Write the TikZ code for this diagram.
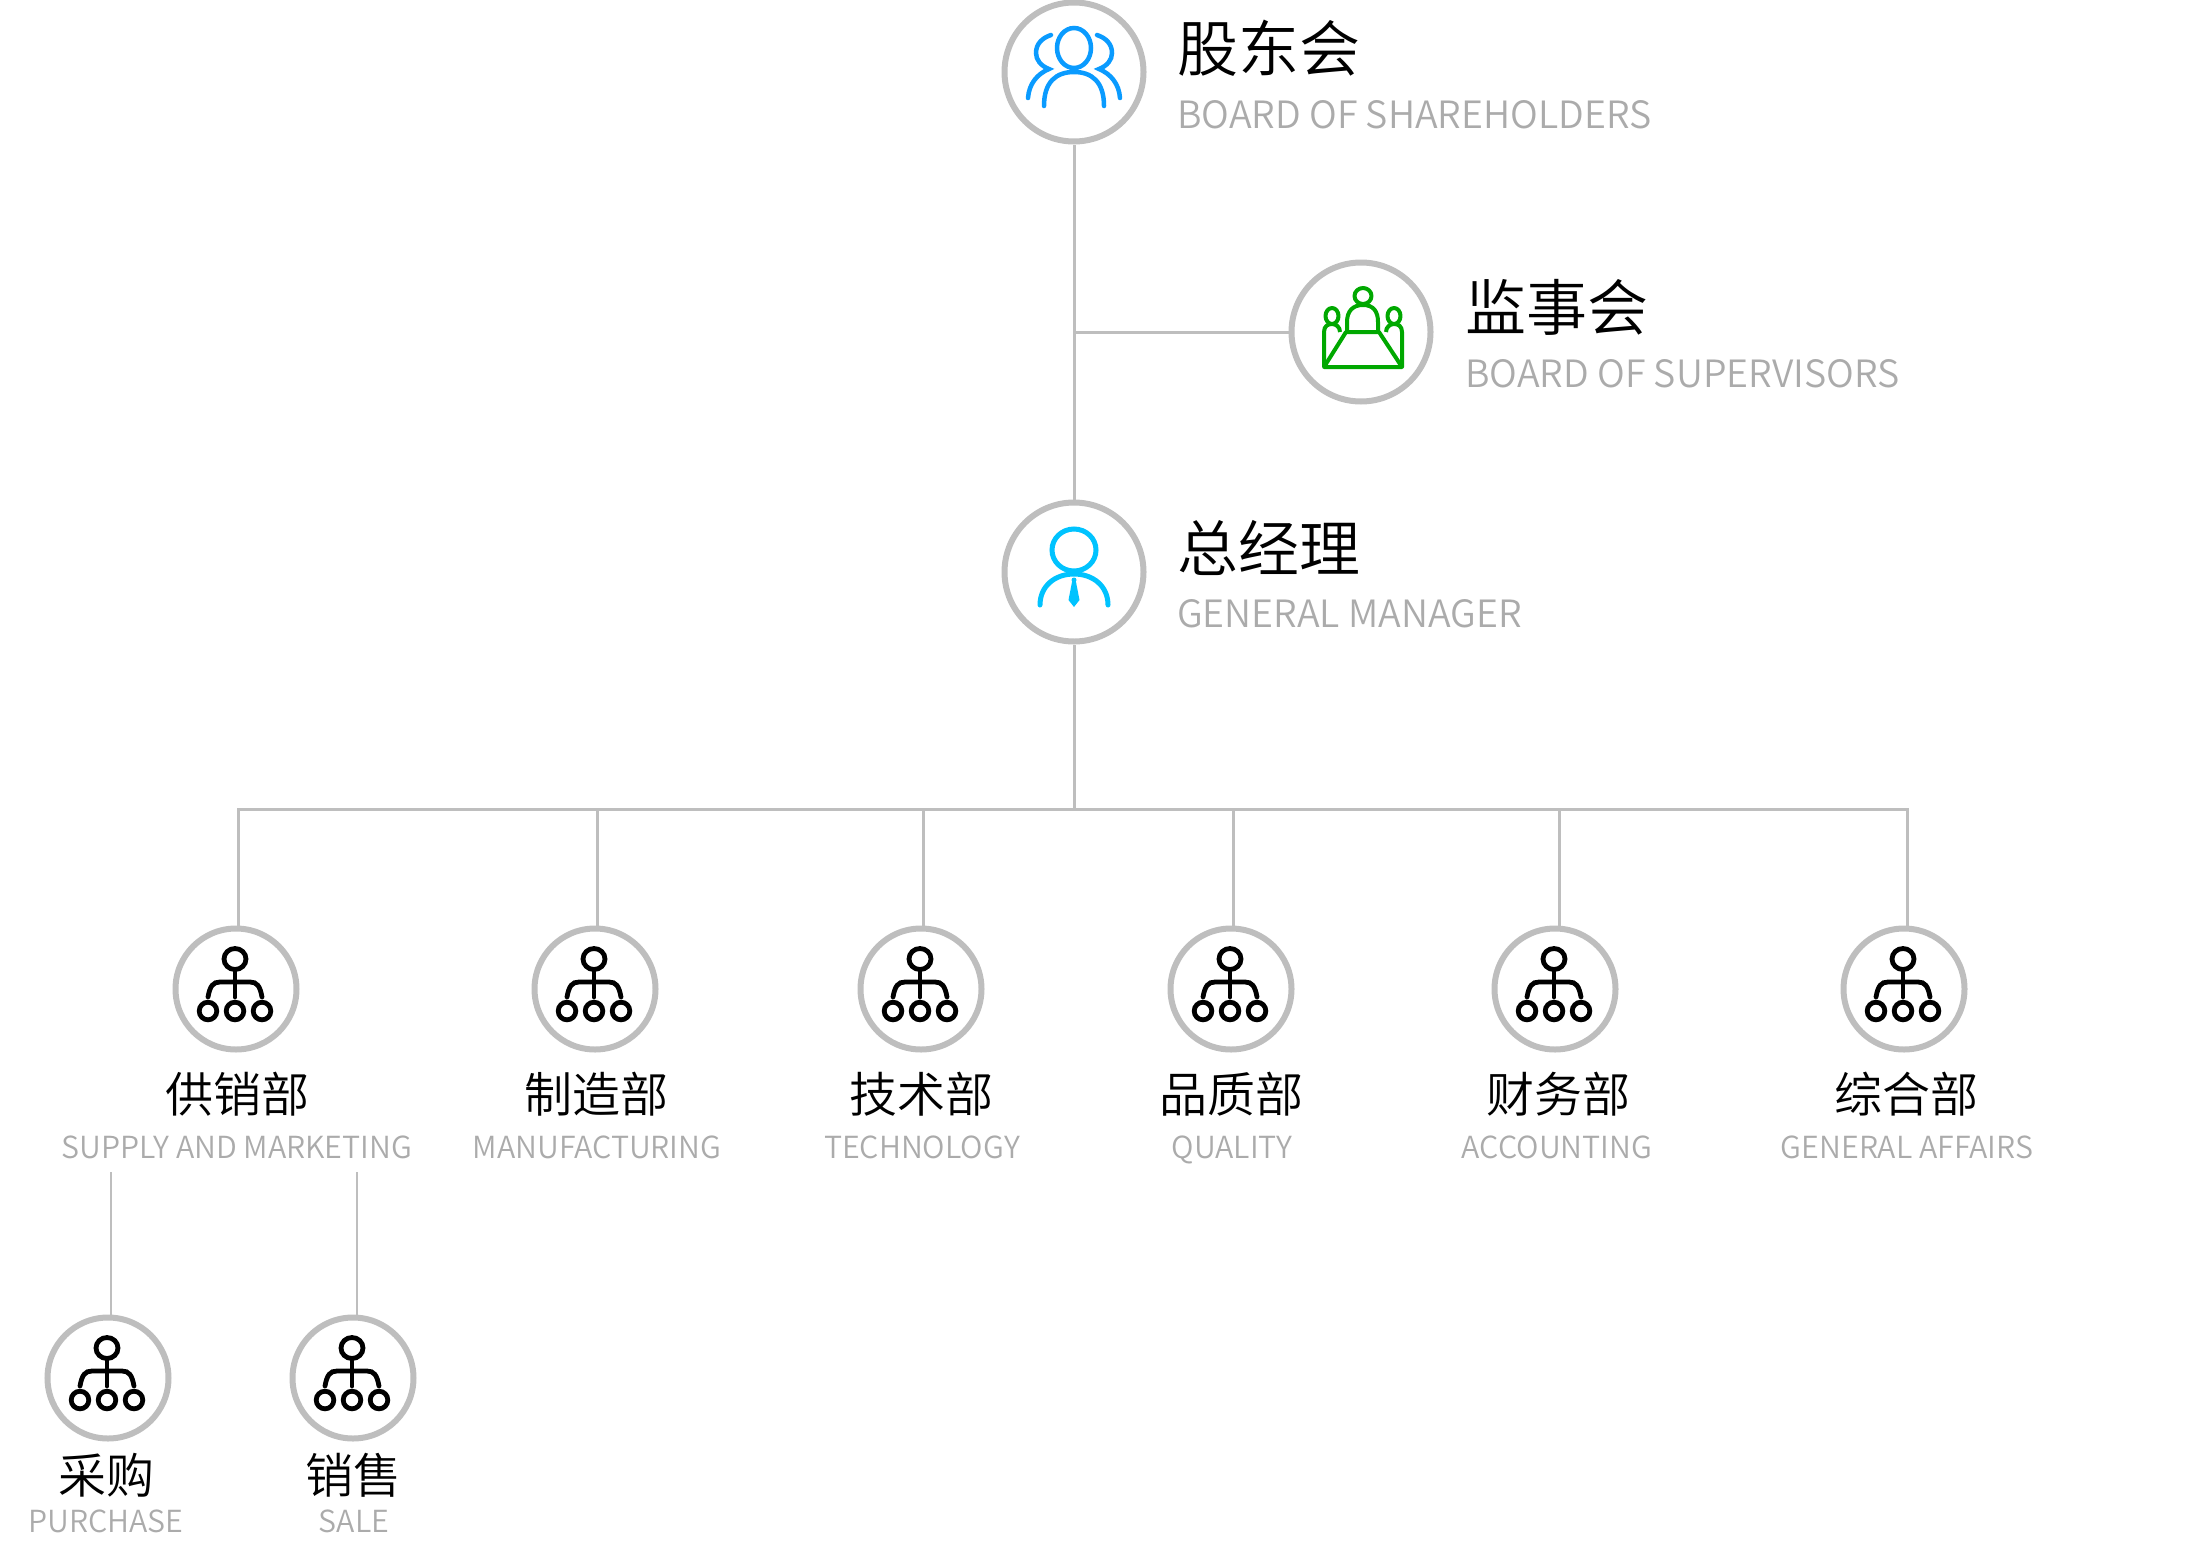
\documentclass[tikz,border=0pt]{standalone}
\usepackage{fontspec}
\newfontfamily\cjk{Noto Sans CJK SC DemiLight}
\newfontfamily\cjkl{Noto Sans CJK SC DemiLight}
\definecolor{ring}{HTML}{BEBEBE}
\definecolor{entxt}{HTML}{ABABAB}
\definecolor{blueA}{HTML}{0A9BFF}
\definecolor{blueB}{HTML}{00C3FF}
\definecolor{greenA}{HTML}{00A800}
\tikzset{
  x=1pt,y=-1pt,
  bigc/.style={circle,draw=ring,line width=6pt,fill=white,minimum size=139pt,inner sep=0pt},
  smallc/.style={circle,draw=ring,line width=6pt,fill=white,minimum size=121pt,inner sep=0pt},
  conn/.style={draw=ring,line width=3pt},
  subconn/.style={draw=ring,line width=2pt},
  bigzh/.style={anchor=base west,inner sep=0pt,text=black,font=\cjk\fontsize{61}{61}\selectfont},
  bigen/.style={anchor=base west,inner sep=0pt,text=entxt,font=\cjkl\fontsize{37.6}{37.6}\selectfont},
  midzh/.style={anchor=base,inner sep=0pt,text=black,font=\cjk\fontsize{48}{48}\selectfont},
  miden/.style={anchor=base,inner sep=0pt,text=entxt,font=\cjkl\fontsize{30.4}{30.4}\selectfont},
  orgicon/.pic={
    \begin{scope}[draw=black,line width=4.8pt,line cap=round]
      \draw (-1,-30) circle[x radius=11,y radius=10.5];
      \draw (-1,-19) -- (-1,8);
      \draw (-28,8) .. controls (-26,-3) and (-23,-7) .. (-16,-7) -- (14,-7) .. controls (21,-7) and (24,-3) .. (26,8);
      \foreach \cx in {-28,-1,26} \draw (\cx,22) circle[radius=8.8];
    \end{scope}
  },
  holdersicon/.pic={
    \begin{scope}[draw=blueA,line width=4.5pt,line cap=round]
      \draw (0,-24) circle[x radius=17,y radius=20];
      \draw (-30,34) .. controls (-30,10) and (-18,0) .. (0,0) .. controls (18,0) and (30,10) .. (30,34);
      \draw (23,-37) .. controls (32,-34) and (38,-28) .. (38,-19) .. controls (38,-12) and (33,-6) .. (25,-3) .. controls (37,2) and (45,12) .. (46,26);
      \draw (-23,-37) .. controls (-32,-34) and (-38,-28) .. (-38,-19) .. controls (-38,-12) and (-33,-6) .. (-25,-3) .. controls (-37,2) and (-45,12) .. (-46,26);
    \end{scope}
  },
  superviseicon/.pic={
    \begin{scope}[draw=greenA,line width=4pt,line join=round]
      \draw (2,-36) circle[x radius=8.5,y radius=8];
      \draw (-14,-1) -- (-14,-10) .. controls (-14,-21) and (-8,-27) .. (2,-27) .. controls (12,-27) and (17,-21) .. (17,-10) -- (17,-1);
      \draw (-15,0) -- (18,0) -- (41,35) -- (-37,35) -- cycle;
      \draw (-29,-16) circle[x radius=6.5,y radius=8];
      \draw (33,-16) circle[x radius=6.5,y radius=8];
      \draw (-37,35) -- (-37,0) .. controls (-37,-6) and (-33,-8) .. (-29,-8) .. controls (-25,-8) and (-21,-5) .. (-21,0);
      \draw (41,35) -- (41,0) .. controls (41,-6) and (37,-8) .. (33,-8) .. controls (29,-8) and (25,-5) .. (25,0);
    \end{scope}
  },
  managericon/.pic={
    \begin{scope}[draw=blueB,line width=5pt,line cap=round]
      \draw (0,-22) circle[x radius=22,y radius=21];
      \draw (-34,33) .. controls (-34,14) and (-19,2) .. (0,2) .. controls (19,2) and (34,14) .. (34,33);
      \fill[blueB] (0,8) circle[radius=2.5];
      \fill[blueB] (-2,10) -- (2,10) -- (5.5,28) -- (0,35) -- (-5.5,28) -- cycle;
    \end{scope}
  }
}
\begin{document}
\begin{tikzpicture}
\useasboundingbox (0,0) rectangle (2196,1547);
% circles
\node[bigc] (holders) at (1074,72) {};
\node[bigc] (supervise) at (1361,332) {};
\node[bigc] (manager) at (1074,572) {};
\node[smallc] (d1) at (236,989) {};
\node[smallc] (d2) at (595,989) {};
\node[smallc] (d3) at (921,989) {};
\node[smallc] (d4) at (1231,989) {};
\node[smallc] (d5) at (1555,989) {};
\node[smallc] (d6) at (1904,989) {};
\node[smallc] (s1) at (108,1378) {};
\node[smallc] (s2) at (353,1378) {};
% icons
\pic at (holders) {holdersicon};
\pic at (supervise) {superviseicon};
\pic at (manager) {managericon};
\foreach \n in {d1,d2,d3,d4,d5,d6,s1,s2} \pic at (\n) {orgicon};
% connectors
\coordinate (bus) at (1074,809);
\coordinate (jn) at (1074,332);
\coordinate (b1) at (238,809);
\coordinate (b2) at (597,809);
\coordinate (b3) at (923,809);
\coordinate (b4) at (1233,809);
\coordinate (b5) at (1559,809);
\coordinate (b6) at (1907,809);
\coordinate (t1) at (238,926);
\coordinate (t2) at (597,926);
\coordinate (t3) at (923,926);
\coordinate (t4) at (1233,926);
\coordinate (t5) at (1559,926);
\coordinate (t6) at (1907,926);
\coordinate (u1) at (111,1172);
\coordinate (u2) at (357,1172);
\coordinate (v1) at (111,1315);
\coordinate (v2) at (357,1315);
\draw[conn] (holders.south) -- (manager.north);
\draw[conn] (jn) -- (jn -| supervise.west);
\draw[conn] (manager.south) -- (bus);
\draw[conn] (t1) -- (b1) -- (b6) -- (t6);
\foreach \i in {2,3,4,5} \draw[conn] (b\i) -- (t\i);
\draw[subconn] (u1) -- (v1);
\draw[subconn] (u2) -- (v2);
% labels
\node[bigzh] (l1) at (1177,71) {股东会};
\node[bigen] (e1) at (1177,128) {BOARD OF SHAREHOLDERS};
\node[bigzh] (l2) at (1465,330) {监事会};
\node[bigen] (e2) at (1465,387) {BOARD OF SUPERVISORS};
\node[bigzh] (l3) at (1177,571) {总经理};
\node[bigen] (e3) at (1177,627) {GENERAL MANAGER};
\node[midzh] (z1) at (237,1112) {供销部};
\node[miden] (n1) at (237,1158) {SUPPLY AND MARKETING};
\node[midzh] (z2) at (596,1112) {制造部};
\node[miden] (n2) at (597,1158) {MANUFACTURING};
\node[midzh] (z3) at (921,1112) {技术部};
\node[miden] (n3) at (922,1158) {TECHNOLOGY};
\node[midzh] (z4) at (1231,1112) {品质部};
\node[miden] (n4) at (1232,1158) {QUALITY};
\node[midzh] (z5) at (1558,1112) {财务部};
\node[miden] (n5) at (1557,1158) {ACCOUNTING};
\node[midzh] (z6) at (1906,1112) {综合部};
\node[miden] (n6) at (1907,1158) {GENERAL AFFAIRS};
\node[midzh] (z7) at (106,1493) {采购};
\node[miden] (n7) at (106,1532) {PURCHASE};
\node[midzh] (z8) at (353,1493) {销售};
\node[miden] (n8) at (354,1532) {SALE};
\end{tikzpicture}
\end{document}
